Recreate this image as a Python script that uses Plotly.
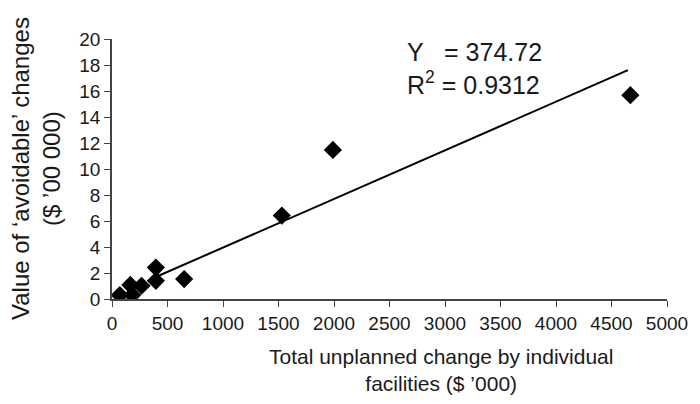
import plotly.graph_objects as go

# Data
x_vals = [70, 165, 183, 266, 395, 395, 650, 1530, 1990, 4670]
y_vals = [0.3, 1.08, 0.3, 1.02, 2.42, 1.4, 1.53, 6.42, 11.47, 15.68]
trend_x = [394, 4648]
trend_y = [1.69, 17.6]
x_ticks = list(range(0, 5001, 500))
y_ticks = list(range(0, 21, 2))

FONT = "Liberation Sans, Arial, sans-serif"
TXT = "#1a1a1a"

# page body has an 8px margin, so the figure starts at (8, 8)
OFF = 8
L, R, T, B = 112, 667, 39, 299  # plot area in page pixels
W, H = 700 - OFF, 404 - OFF


def px(xp):
    return (xp - L) / (R - L)


def py(yp):
    return (B - yp) / (B - T)


fig = go.Figure()
fig.add_trace(go.Scatter(x=trend_x, y=trend_y, mode="lines",
                         line=dict(color="black", width=2), showlegend=False))
fig.add_trace(go.Scatter(x=x_vals, y=y_vals, mode="markers",
                         marker=dict(symbol="diamond", size=14, color="black"),
                         showlegend=False))

axis_common = dict(ticks="outside", ticklen=6, tickcolor="#444", showline=True,
                   linecolor="#444", linewidth=1.5, showgrid=False, zeroline=False,
                   tickfont=dict(size=19, color=TXT))

fig.update_layout(
    width=W, height=H,
    margin=dict(l=L - OFF, r=W + OFF - R, t=T - OFF, b=H + OFF - B, pad=0),
    paper_bgcolor="white", plot_bgcolor="white",
    font=dict(family=FONT, size=19, color=TXT),
    xaxis=dict(range=[0, 5000], tickvals=x_ticks, **axis_common),
    yaxis=dict(range=[0, 20], tickvals=y_ticks, **axis_common),
)

fig.add_annotation(text="Y   = 374.72<br>R<sup>2</sup> = 0.9312", x=px(405), y=py(68),
                   xref="paper", yref="paper", xanchor="left", yanchor="middle",
                   align="left", showarrow=False, font=dict(size=25, color=TXT))
# Axis titles
fig.add_annotation(text="Total unplanned change by individual<br>facilities ($ ’000)",
                   x=px(441), y=py(370),
                   xref="paper", yref="paper", xanchor="center", yanchor="middle",
                   showarrow=False, font=dict(size=21, color=TXT))
fig.add_annotation(text="Value of ‘avoidable’ changes<br>($ ’00 000)",
                   x=px(36), y=py(169), textangle=-90,
                   xref="paper", yref="paper", xanchor="center", yanchor="middle",
                   showarrow=False, font=dict(size=24, color=TXT))

fig.write_html("out.html")
